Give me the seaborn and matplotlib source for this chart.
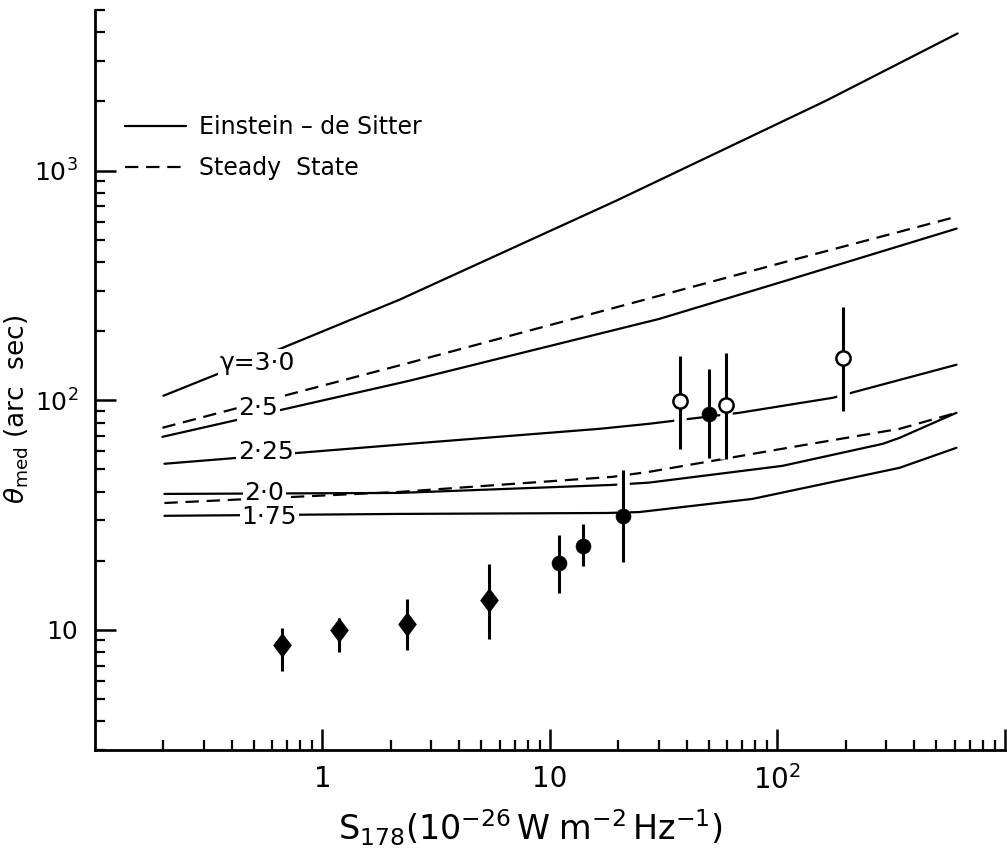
import numpy as np
import pandas as pd
import matplotlib
matplotlib.use("Agg")
import matplotlib.pyplot as plt
import matplotlib.ticker as mticker
import matplotlib.patheffects as pe
import seaborn as sns

# ---------------- data ----------------
# model curves: flux density S (1e-26 W m^-2 Hz^-1) vs median angular size (arcsec)
es30_S = [0.2, 0.667, 2.18, 19.6, 164, 619]
es30_T = [104.6, 169, 274, 740, 2018, 3954]

ss25_S = [0.198, 2.41, 30.2, 105, 613]
ss25_T = [75.9, 145.6, 285, 397, 630]

es25_S = [0.198, 2.41, 30.2, 105, 613]
es25_T = [69.3, 121.6, 226, 328, 559]

es225_S = [0.202, 2.41, 16.5, 27.3, 68, 175, 612]
es225_T = [52.9, 64.6, 75.1, 79, 88.2, 102.5, 142.8]

ss20_S = [0.202, 2.18, 18.8, 27.3, 105, 344, 612]
ss20_T = [35.7, 39.9, 46.4, 48.8, 61.5, 75.1, 88.2]

es20_S = [0.202, 2.18, 18.8, 27.3, 105, 290, 344, 612]
es20_T = [39.1, 39.5, 42.8, 43.8, 51.8, 64.6, 68.6, 88.2]

es175_S = [0.202, 2.18, 17.7, 24.7, 77.6, 344, 612]
es175_T = [31.4, 32.0, 32.3, 32.6, 37.2, 50.8, 62.1]

# observations
dia_S = [0.665, 1.18, 2.35, 5.42]
dia_T = [8.60, 9.97, 10.6, 13.5]
dia_lo = [6.63, 8.02, 8.16, 9.17]
dia_hi = [10.2, 11.24, 13.7, 19.46]

fc_S = [11.0, 14.0, 21.0, 50.2]
fc_T = [19.66, 23.2, 31.4, 87.2]
fc_lo = [14.5, 18.9, 19.8, 56.3]
fc_hi = [25.9, 28.9, 49.7, 137]

oc_S = [37.1, 59.1, 193.7]
oc_T = [99.6, 95.5, 152.6]
oc_lo = [61.2, 55.5, 90]
oc_hi = [156, 161, 254]

curve_labels = ["\u03b3=3\u00b70", "2\u00b75", "2\u00b725", "2\u00b70", "1\u00b775"]
curve_label_S = [0.518, 0.523, 0.562, 0.556, 0.585]
curve_label_T = [145.5, 92.8, 59.7, 39.5, 31.1]

legend_labels = ["Einstein \u2013 de Sitter", "Steady  State"]

# ---------------- plotting ----------------
sns.set_style("ticks")
plt.rcParams["font.family"] = ["DejaVu Sans"]
plt.rcParams["mathtext.fontset"] = "dejavusans"
for k in ("text.color", "axes.labelcolor", "xtick.color", "ytick.color", "axes.edgecolor"):
    plt.rcParams[k] = "black"

fig = plt.figure(figsize=(10.07, 8.5), dpi=100)
ax = fig.add_axes([0.0943, 0.1176, 0.9037, 0.8706])
ax.set_xscale("log")
ax.set_yscale("log")

lw = 1.6
dash = (6, 3.5)

curves = [
    (es30_S, es30_T, "ES"),
    (ss25_S, ss25_T, "SS"),
    (es25_S, es25_T, "ES"),
    (es225_S, es225_T, "ES"),
    (ss20_S, ss20_T, "SS"),
    (es20_S, es20_T, "ES"),
    (es175_S, es175_T, "ES"),
]
handles = {}
for S, T, model in curves:
    n_before = len(ax.lines)
    sns.lineplot(x=S, y=T, ax=ax, color="black", lw=lw, estimator=None,
                 sort=False, legend=False)
    line = ax.lines[n_before]
    if model == "SS":
        line.set_dashes(dash)
    handles.setdefault(model, line)

# error bars (with white halo to break curves as in the original)
halo = [pe.withStroke(linewidth=9, foreground="white")]
for S, lo, hi in [(dia_S, dia_lo, dia_hi), (fc_S, fc_lo, fc_hi), (oc_S, oc_lo, oc_hi)]:
    for s, l, h in zip(S, lo, hi):
        ax.vlines(s, l, h, color="black", lw=2.2, zorder=4, path_effects=halo)

diamond = [(0, 1), (0.75, 0), (0, -1), (-0.75, 0), (0, 1)]
sns.scatterplot(x=dia_S, y=dia_T, ax=ax, marker=diamond, s=290, color="black",
                edgecolor="black", linewidth=0.5, zorder=5, legend=False)
sns.scatterplot(x=fc_S, y=fc_T, ax=ax, marker="o", s=115, color="black",
                edgecolor="black", linewidth=0.5, zorder=5, legend=False)
sns.scatterplot(x=oc_S, y=oc_T, ax=ax, marker="o", s=105, facecolor="white",
                edgecolor="black", linewidth=1.8, zorder=5, legend=False)

# curve labels
for txt, s, t in zip(curve_labels, curve_label_S, curve_label_T):
    ax.text(s, t, txt, fontsize=18, ha="center", va="center", zorder=3,
            bbox=dict(facecolor="white", edgecolor="none", pad=1.5))

# legend
leg = ax.legend([handles["ES"], handles["SS"]], legend_labels, loc="upper left",
                bbox_to_anchor=(0.033, 0.858), frameon=False, fontsize=17,
                handlelength=2.6, handletextpad=0.55, labelspacing=0.72,
                borderpad=0, borderaxespad=0)

# axes
ax.set_xlim(0.1, 1000)
ax.set_ylim(3, 5000)
for side in ("top", "right"):
    ax.spines[side].set_visible(False)
for side in ("left", "bottom"):
    ax.spines[side].set_linewidth(2.0)
    ax.spines[side].set_color("black")

ax.xaxis.set_major_locator(mticker.FixedLocator([1, 10, 100, 1000]))
ax.xaxis.set_major_formatter(mticker.FixedFormatter(["1", "10", r"$10^2$", ""]))
ax.xaxis.set_minor_locator(mticker.LogLocator(base=10, subs=np.arange(2, 10), numticks=20))
ax.xaxis.set_minor_formatter(mticker.NullFormatter())
ax.yaxis.set_major_locator(mticker.FixedLocator([10, 100, 1000]))
ax.yaxis.set_major_formatter(mticker.FixedFormatter(["10", r"$10^2$", r"$10^3$"]))
ax.yaxis.set_minor_locator(mticker.LogLocator(base=10, subs=np.arange(2, 10), numticks=20))
ax.yaxis.set_minor_formatter(mticker.NullFormatter())

ax.tick_params(axis="both", which="major", direction="in", length=15, width=1.8,
               labelsize=20, pad=11)
ax.tick_params(axis="y", which="major", labelsize=18, pad=12)
ax.tick_params(axis="both", which="minor", direction="in", length=7, width=1.6)

ax.set_xlabel(r"$\mathregular{S_{178}(10^{-26}\,W\;m^{-2}\,Hz^{-1})}$", fontsize=24)
ax.set_ylabel(r"$\theta_{\mathregular{med}}$ (arc  sec)", fontsize=19)
ax.xaxis.set_label_coords(0.478, -0.078)
ax.yaxis.set_label_coords(-0.070, 0.46)

fig.savefig("out.png", dpi=100)
